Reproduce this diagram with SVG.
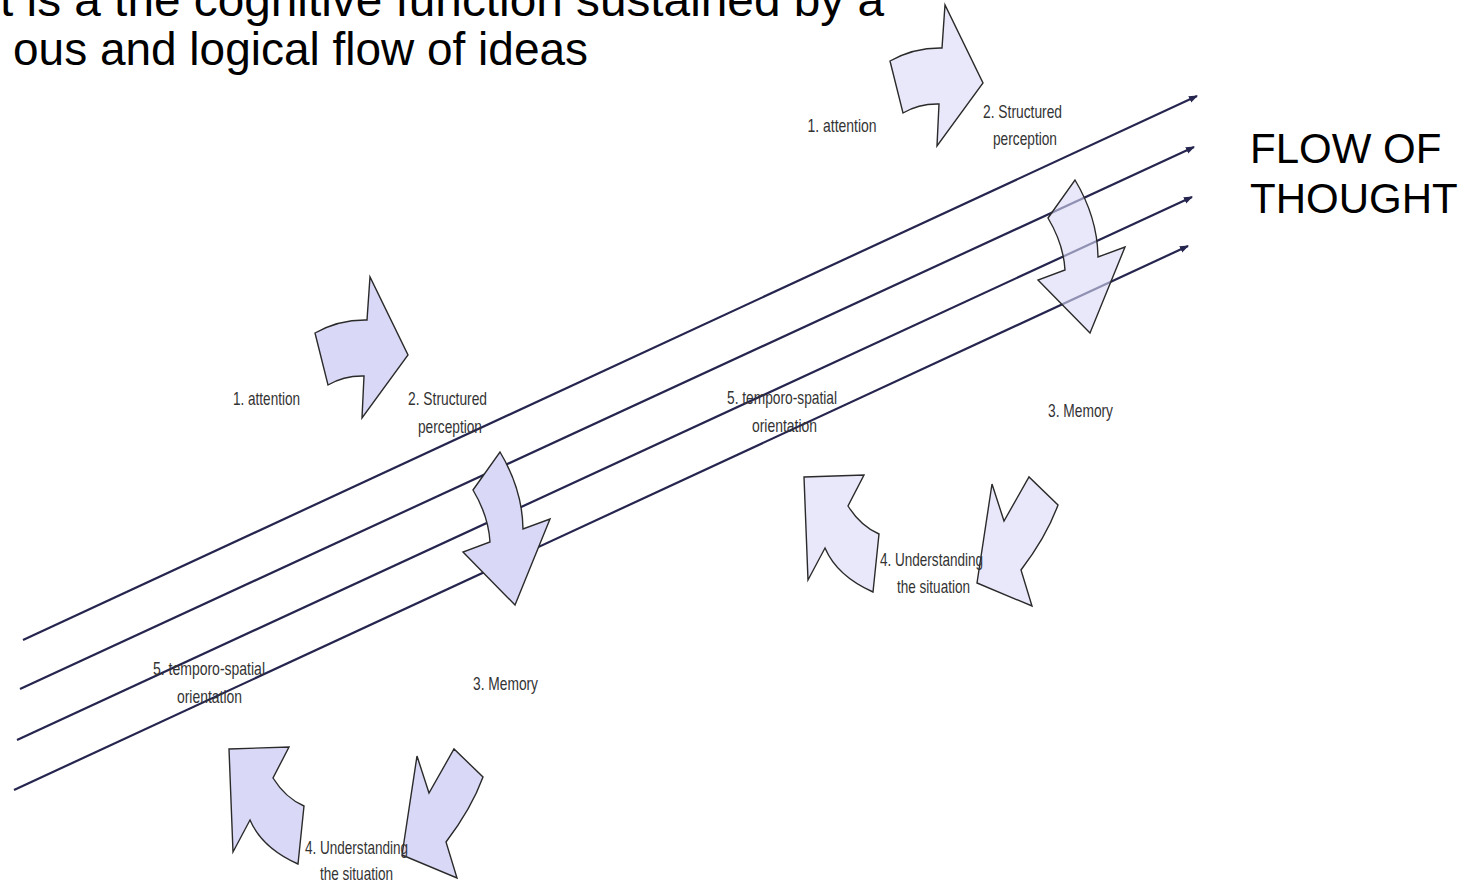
<svg xmlns="http://www.w3.org/2000/svg" width="1466" height="883" viewBox="0 0 1466 883">
  <style>
    .title { font-family: "Liberation Sans", Arial, sans-serif; font-size: 46px; fill: #000; }
    .flow { font-family: "Liberation Sans", Arial, sans-serif; font-size: 42px; fill: #000; }
    .lbl { font-family: "Liberation Sans Narrow", "Liberation Sans", Arial, sans-serif; font-size: 18.5px; fill: #333; text-anchor: middle; }
    .stream { stroke: #25254f; stroke-width: 2.2; fill: none; marker-end: url(#tip); }
    .blk { fill: #d9d9f7; stroke: #2a2a2a; stroke-width: 1.4; stroke-linejoin: miter; }
    .blk-faint { fill: #d9d9f7; fill-opacity: 0.6; stroke: #2a2a2a; stroke-width: 1.4; }
  </style>
  <defs>
    <marker id="tip" markerUnits="userSpaceOnUse" markerWidth="10" markerHeight="8" refX="8" refY="3.5" orient="auto">
      <path d="M0,0 L9,3.5 L0,7 Z" fill="#25254f"/>
    </marker>
    <!-- block arrow outlines of one cycle -->
    <path id="a1" d="M315,333 Q339,319.5 367,320 L370,277 L408,355 L362,418 L364,376 Q344,375.5 328,385 Z"/>
    <path id="a2" d="M473,490 L500,452 Q522.5,489.5 523,529 L550,519 L515,605 L463,552 L490,542 Q488.5,516 473,490 Z"/>
    <path id="a3" d="M417,756 L429,793 L454,749 L483,777 Q471.5,808.5 446,842 L457,878 L402,855 Z"/>
    <path id="a4" d="M229,749 L289,747 L273,778 Q285.5,798 304,806 L298,864 Q262,848 250,820 L233,852 Z"/>
  </defs>

  <rect width="1466" height="883" fill="#fff"/>

  <g id="heading">
    <text class="title" x="0" y="16" textLength="884" lengthAdjust="spacingAndGlyphs">t is a the cognitive function sustained by a</text>
    <text class="title" x="13" y="65" textLength="575" lengthAdjust="spacingAndGlyphs">ous and logical flow of ideas</text>
  </g>

  <g id="flow-label">
    <text class="flow" x="1250" y="163">FLOW OF</text>
    <text class="flow" x="1250" y="213">THOUGHT</text>
  </g>

  <!-- the four parallel streams of thought -->
  <g id="connectors">
    <line class="stream" x1="23" y1="640" x2="1197" y2="96"/>
    <line class="stream" x1="20" y1="689" x2="1194" y2="147"/>
    <line class="stream" x1="17" y1="740" x2="1192" y2="197"/>
    <line class="stream" x1="14" y1="790" x2="1188" y2="246"/>
  </g>

  <!-- lower cycle -->
  <g id="cycle-lower">
    <g id="lower-arrow-1"><use href="#a1" class="blk"/></g>
    <g id="lower-arrow-2"><use href="#a2" class="blk"/></g>
    <g id="lower-arrow-3"><use href="#a3" class="blk"/></g>
    <g id="lower-arrow-4"><use href="#a4" class="blk"/></g>
    <g id="lower-attention"><text class="lbl" x="266.5" y="405" textLength="67" lengthAdjust="spacingAndGlyphs">1. attention</text></g>
    <g id="lower-perception">
      <text class="lbl" x="447.5" y="405" textLength="79" lengthAdjust="spacingAndGlyphs">2. Structured</text>
      <text class="lbl" x="450" y="433" textLength="64" lengthAdjust="spacingAndGlyphs">perception</text>
    </g>
    <g id="lower-memory"><text class="lbl" x="505.5" y="690" textLength="65" lengthAdjust="spacingAndGlyphs">3. Memory</text></g>
    <g id="lower-understanding">
      <text class="lbl" x="356.5" y="854" textLength="103" lengthAdjust="spacingAndGlyphs">4. Understanding</text>
      <text class="lbl" x="356.5" y="880" textLength="73" lengthAdjust="spacingAndGlyphs">the situation</text>
    </g>
    <g id="lower-orientation">
      <text class="lbl" x="209" y="675" textLength="112" lengthAdjust="spacingAndGlyphs">5. temporo-spatial</text>
      <text class="lbl" x="209.5" y="703" textLength="65" lengthAdjust="spacingAndGlyphs">orientation</text>
    </g>
  </g>

  <!-- upper cycle: same arrows shifted along the streams -->
  <g id="cycle-upper">
    <g id="upper-arrow-1" transform="translate(575,-272)"><use href="#a1" class="blk-faint"/></g>
    <g id="upper-arrow-2" transform="translate(575,-272)"><use href="#a2" class="blk-faint"/></g>
    <g id="upper-arrow-3" transform="translate(575,-272)"><use href="#a3" class="blk-faint"/></g>
    <g id="upper-arrow-4" transform="translate(575,-272)"><use href="#a4" class="blk-faint"/></g>
    <g id="upper-attention"><text class="lbl" x="842" y="132" textLength="69" lengthAdjust="spacingAndGlyphs">1. attention</text></g>
    <g id="upper-perception">
      <text class="lbl" x="1022.5" y="118" textLength="79" lengthAdjust="spacingAndGlyphs">2. Structured</text>
      <text class="lbl" x="1025" y="145" textLength="64" lengthAdjust="spacingAndGlyphs">perception</text>
    </g>
    <g id="upper-memory"><text class="lbl" x="1080.5" y="417" textLength="65" lengthAdjust="spacingAndGlyphs">3. Memory</text></g>
    <g id="upper-understanding">
      <text class="lbl" x="931.5" y="566" textLength="103" lengthAdjust="spacingAndGlyphs">4. Understanding</text>
      <text class="lbl" x="933.5" y="593" textLength="73" lengthAdjust="spacingAndGlyphs">the situation</text>
    </g>
    <g id="upper-orientation">
      <text class="lbl" x="782" y="404" textLength="110" lengthAdjust="spacingAndGlyphs">5. temporo-spatial</text>
      <text class="lbl" x="784.5" y="432" textLength="65" lengthAdjust="spacingAndGlyphs">orientation</text>
    </g>
  </g>
</svg>
